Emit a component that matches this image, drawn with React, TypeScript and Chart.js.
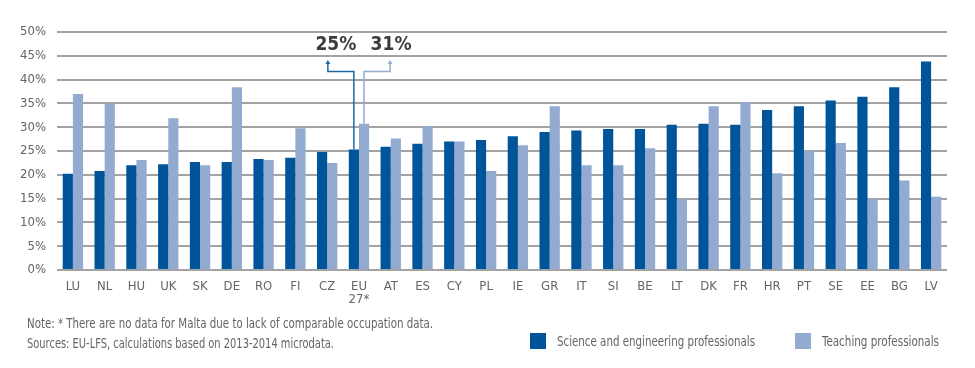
import React, { useEffect, useLayoutEffect, useRef } from "react";
import { Chart, registerables } from "chart.js";

Chart.register(...registerables);

const categories: (string | string[])[] = [
  "LU", "NL", "HU", "UK", "SK", "DE", "RO", "FI", "CZ", ["EU", "27*"], "AT", "ES", "CY", "PL",
  "IE", "GR", "IT", "SI", "BE", "LT", "DK", "FR", "HR", "PT", "SE", "EE", "BG", "LV",
];
const scienceValues = [
  20.2, 20.8, 22.0, 22.2, 22.7, 22.7, 23.3, 23.6, 24.8, 25.3, 25.9, 26.5, 27.0, 27.3,
  28.1, 29.0, 29.3, 29.6, 29.6, 30.5, 30.7, 30.5, 33.6, 34.4, 35.6, 36.4, 38.4, 43.8,
];
const teachingValues = [
  37.0, 34.9, 23.1, 31.9, 22.0, 38.4, 23.1, 29.8, 22.5, 30.7, 27.6, 30.2, 27.0, 20.8,
  26.2, 34.4, 22.0, 22.0, 25.6, 14.9, 34.4, 35.3, 20.3, 25.0, 26.7, 14.9, 18.8, 15.4,
];
const seriesNames = ["Science and engineering professionals", "Teaching professionals"];
const yTicks = [0, 5, 10, 15, 20, 25, 30, 35, 40, 45, 50];
const euIndex = 9;
const euLabels = ["25%", "31%"];
const noteLines = [
  "Note: * There are no data for Malta due to lack of comparable occupation data.",
  "Sources: EU-LFS, calculations based on 2013-2014 microdata.",
];

const DARK = "#00559a";
const LIGHT = "#93abd0";
const FONT = "'Liberation Sans Narrow', 'DejaVu Sans Condensed', sans-serif";
const TXT = "#676462";

const euPlugin = {
  id: "euAnnot",
  afterDatasetsDraw(chart: any) {
    const ctx = chart.ctx;
    const y = chart.scales.y;
    const yLine = y.getPixelForValue(41.7);
    const yArrow = y.getPixelForValue(43.9);
    const yText = y.getPixelForValue(47.2);
    const colors = ["#1c69a8", LIGHT];
    [0, 1].forEach((di) => {
      const bar = chart.getDatasetMeta(di).data[euIndex];
      const dir = di === 0 ? -1 : 1;
      const ax = bar.x + dir * 26;
      ctx.save();
      ctx.strokeStyle = colors[di];
      ctx.lineWidth = 1.5;
      ctx.beginPath();
      ctx.moveTo(bar.x, bar.y);
      ctx.lineTo(bar.x, yLine);
      ctx.lineTo(ax, yLine);
      ctx.lineTo(ax, yArrow + 2);
      ctx.stroke();
      ctx.fillStyle = colors[di];
      ctx.beginPath();
      ctx.moveTo(ax, yArrow - 1);
      ctx.lineTo(ax - 2.5, yArrow + 3);
      ctx.lineTo(ax + 2.5, yArrow + 3);
      ctx.closePath();
      ctx.fill();
      ctx.fillStyle = "#3c3c3c";
      ctx.font = `bold 19px ${FONT}`;
      ctx.textAlign = "center";
      ctx.textBaseline = "middle";
      ctx.fillText(euLabels[di], ax + (di === 0 ? 8 : 1), yText);
      ctx.restore();
    });
  },
};

function FitText({ text, width, style }: { text: string; width: number; style: any }) {
  const ref = useRef<HTMLSpanElement>(null);
  useLayoutEffect(() => {
    const el = ref.current;
    if (!el) return;
    el.style.transform = "none";
    const w = el.getBoundingClientRect().width;
    if (w > 0) el.style.transform = `scaleX(${width / w})`;
  }, [text, width]);
  return (
    <span ref={ref} style={{ ...style, display: "inline-block", whiteSpace: "nowrap", transformOrigin: "left center" }}>
      {text}
    </span>
  );
}

export default function App() {
  const ref = useRef<HTMLCanvasElement>(null);
  useEffect(() => {
    if (!ref.current) return;
    const chart = new Chart(ref.current, {
      type: "bar",
      data: {
        labels: categories as any,
        datasets: [
          { label: seriesNames[0], data: scienceValues, backgroundColor: DARK, categoryPercentage: 0.64, barPercentage: 1 },
          { label: seriesNames[1], data: teachingValues, backgroundColor: LIGHT, categoryPercentage: 0.64, barPercentage: 1 },
        ],
      },
      options: {
        animation: false,
        responsive: false,
        maintainAspectRatio: false,
        layout: { padding: { left: 0, right: 20, top: 24, bottom: 50 } },
        plugins: { legend: { display: false }, tooltip: { enabled: false } },
        scales: {
          x: {
            grid: { display: false },
            border: { display: false },
            ticks: { color: TXT, font: { family: FONT, size: 13, lineHeight: 1.0 }, padding: 2, maxRotation: 0, autoSkip: false },
            afterFit: (s: any) => { s.height = 40; },
          },
          y: {
            min: 0,
            max: 50,
            afterBuildTicks: (s: any) => { s.ticks = yTicks.map((v) => ({ value: v })); },
            grid: { color: "#a3a3a3", lineWidth: 2, drawTicks: false },
            border: { display: false },
            ticks: { color: TXT, font: { family: FONT, size: 13 }, padding: 11, callback: (v: any) => `${v}%` },
            afterFit: (s: any) => { s.width = 49; },
          },
        },
      },
      plugins: [euPlugin],
    });
    return () => chart.destroy();
  }, []);

  const textStyle = { fontFamily: FONT, fontSize: 14.5, color: TXT };
  const legendItem = (color: string, text: string, left: number, tw: number) => (
    <div style={{ position: "absolute", left, top: 325, display: "flex", alignItems: "center", height: 16 }}>
      <div style={{ width: 16, height: 16, background: color, marginRight: 11, flex: "none" }} />
      <FitText text={text} width={tw} style={textStyle} />
    </div>
  );

  return (
    <div style={{ position: "relative", width: 959, height: 352 }}>
      <canvas ref={ref} width={959} height={352} style={{ position: "absolute", left: 0, top: 0 }} />
      <div style={{ position: "absolute", left: 19, top: 305, lineHeight: "20px" }}>
        <div><FitText text={noteLines[0]} width={406} style={textStyle} /></div>
        <div><FitText text={noteLines[1]} width={307} style={textStyle} /></div>
      </div>
      {legendItem(DARK, seriesNames[0], 522, 198)}
      {legendItem(LIGHT, seriesNames[1], 787, 117)}
    </div>
  );
}
